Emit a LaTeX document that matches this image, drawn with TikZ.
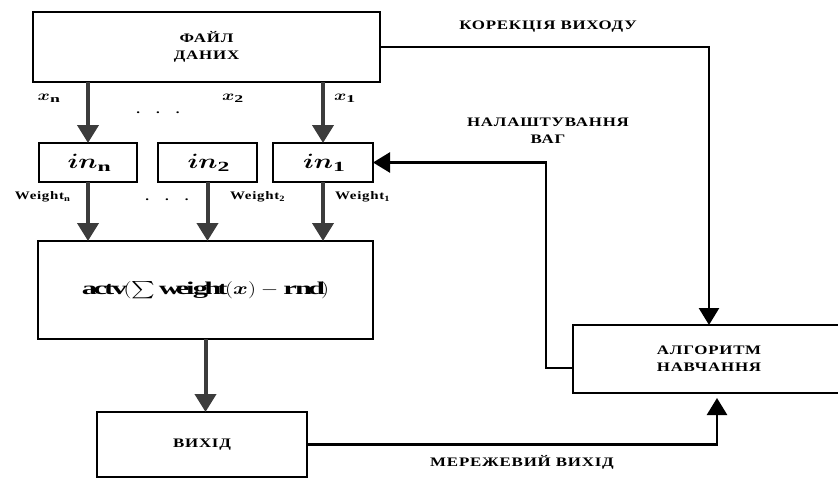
\documentclass[tikz,border=0pt]{standalone}
\usepackage{amsmath}
\usepackage{bm}
\usepackage{graphicx}
\usepackage{fontspec}
\setmainfont{Liberation Serif}[FakeStretch=1.3, LetterSpace=6]
\usetikzlibrary{arrows.meta}
\usetikzlibrary{positioning}
\definecolor{arrowgray}{HTML}{3C3C3C}
\tikzset{>=latex}
\tikzset{
  block/.style={draw, line width=2.5pt, inner sep=0pt, outer sep=0pt, align=center,
    font=\fontsize{13}{17}\selectfont\bfseries},
  flow/.style={draw=arrowgray, line width=4pt, -{Triangle[width=21pt,length=18pt]}},
  feed/.style={draw=black, line width=2.6pt, -{Triangle[width=20pt,length=17pt]}},
  lbl/.style={font=\fontsize{13}{17}\selectfont\bfseries, align=center},
  small/.style={font=\fontsize{11.5}{13}\selectfont\bfseries},
  mathlbl/.style={font=\fontsize{15}{18}\selectfont}
}
\newcommand{\wide}[1]{\scalebox{1.3}[1]{#1}}

\begin{document}
\begin{tikzpicture}[x=1pt,y=-1pt]
\useasboundingbox (0,0) rectangle (838,479);

% Blocks
\node[block, minimum width=347pt, minimum height=70pt] (data) at (206.5,47) {ФАЙЛ\\ДАНИХ};
\node[block, minimum width=98pt, minimum height=39pt, font=\fontsize{20}{24}\selectfont] (inn) at (88,162.5) {\wide{$\bm{in}_{\mathbf{n}}$}};
\node[block, minimum width=99pt, minimum height=39pt, font=\fontsize{20}{24}\selectfont] (intwo) at (207.5,162.5) {\wide{$\bm{in}_{\mathbf{2}}$}};
\node[block, minimum width=100pt, minimum height=39pt, font=\fontsize{20}{24}\selectfont] (inone) at (323,162.5) {\wide{$\bm{in}_{\mathbf{1}}$}};
\node[block, minimum width=335pt, minimum height=98pt, font=\fontsize{18}{21}\selectfont] (actv) at (205.5,290)
  {\wide{$\mathbf{actv}(\textstyle\sum\mathbf{weight}(\bm{x})-\mathbf{r\mkern1mu nd})$}};
\node[block, minimum width=210pt, minimum height=65pt] (out) at (202,444.5) {ВИХІД};
\node[block, minimum width=272pt, minimum height=68pt] (alg) at (709,359) {АЛГОРИТМ\\НАВЧАННЯ};

% Inputs
\draw[flow] (data.south -| inn) -- (inn.north);
\draw[flow] (data.south -| inone) -- (inone.north);
\node[mathlbl] (xn) at (48,98) {\wide{$\bm{x}_{\mathbf{n}}$}};
\node[mathlbl] (xtwo) at (232,98) {\wide{$\bm{x}_{\mathbf{2}}$}};
\node[mathlbl] (xone) at (344,98) {\wide{$\bm{x}_{\mathbf{1}}$}};
\node[small] (dotsx) at (158,113) {.\hspace{16pt}.\hspace{16pt}.};

% Weights
\draw[flow] (inn.south) -- (inn.south |- actv.north);
\draw[flow] (intwo.south) -- (intwo.south |- actv.north);
\draw[flow] (inone.south) -- (inone.south |- actv.north);
\node[small] (wn) at (42,197) {Weight$_{\mathbf{n}}$};
\node[small] (wtwo) at (257,197) {Weight$_{\mathbf{2}}$};
\node[small] (wone) at (362,197) {Weight$_{\mathbf{1}}$};
\node[small] (dotsw) at (167,200) {.\hspace{16pt}.\hspace{16pt}.};

% Output
\draw[flow] (actv.south) -- (actv.south |- out.north);

% Feedback
\coordinate (algin) at ([yshift=-9pt]alg.west);
\coordinate (algup) at ([xshift=8pt,yshift=-5pt]alg.south);
\draw[feed] (data.east) -| (alg.north);
\draw[feed] (algin) -- ++(-27,0) |- (inone.east);
\draw[feed] (out.east) -| (algup);
\node[lbl] (corr) at (548,27) {КОРЕКЦІЯ ВИХОДУ};
\node[lbl] (tune) at (548,131) {НАЛАШТУВАННЯ\\ВАГ};
\node[lbl] (netout) at (522,462) {МЕРЕЖЕВИЙ ВИХІД};

\end{tikzpicture}
\end{document}
